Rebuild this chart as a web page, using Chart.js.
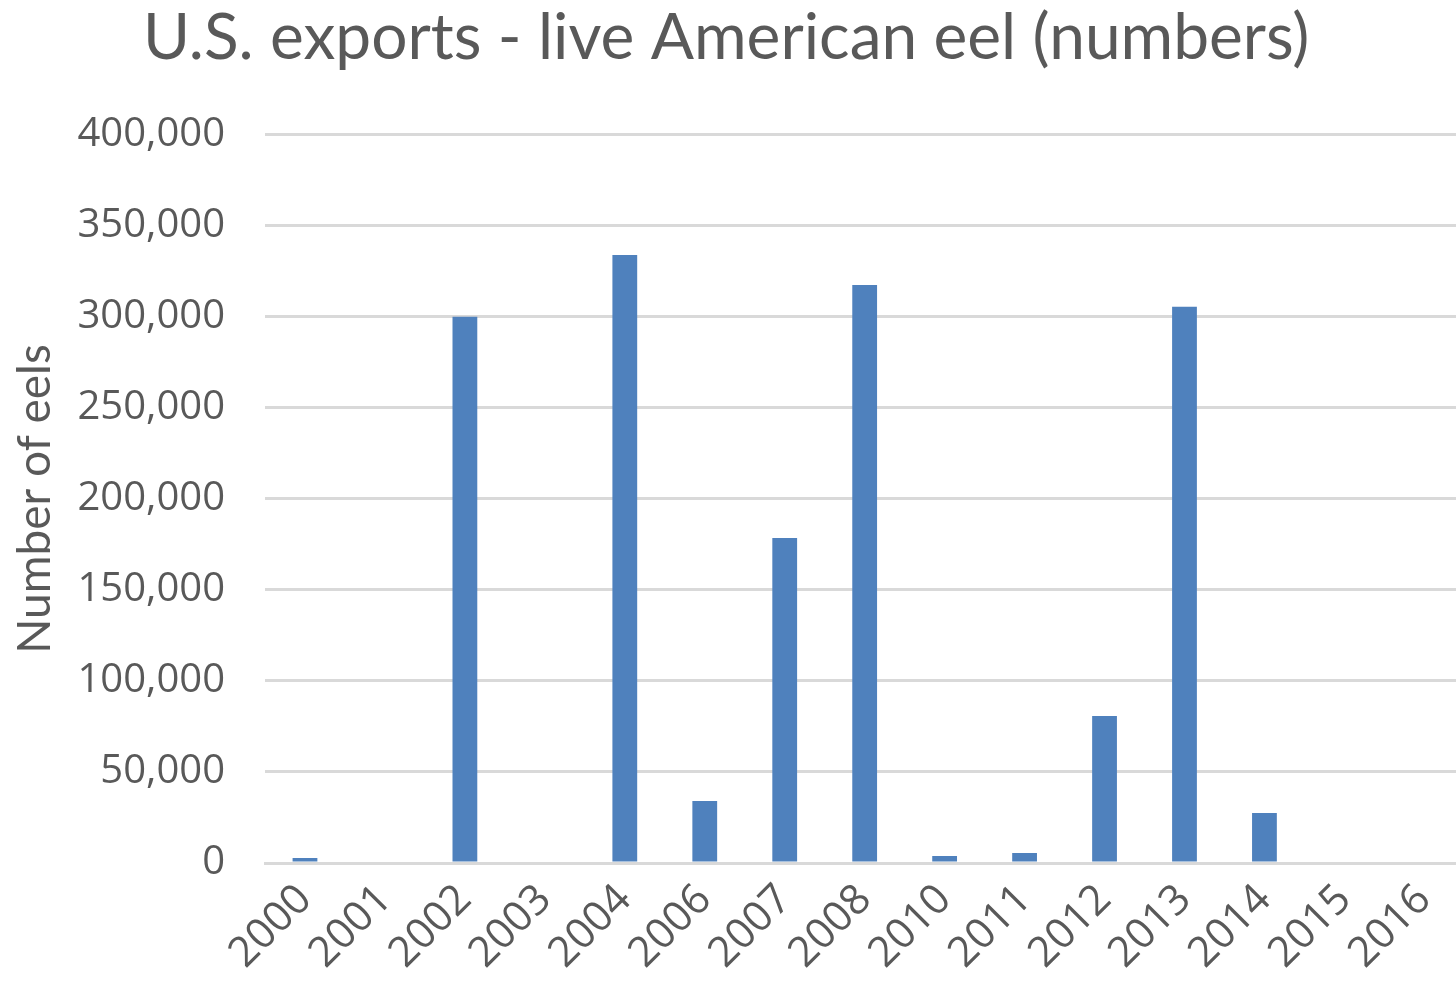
<!DOCTYPE html>
<html>
<head>
<meta charset="utf-8">
<script src="https://cdn.jsdelivr.net/npm/chart.js@4"></script>
<style>
  html, body { margin: 0; padding: 0; background: #fff; overflow: hidden; }
  #wrap { width: 1472px; height: 986px; }
</style>
</head>
<body>
<div id="wrap"><canvas id="eelChart"></canvas></div>
<script>
// data
const years = ['2000', '2001', '2002', '2003', '2004', '2006', '2007', '2008',
               '2010', '2011', '2012', '2013', '2014', '2015', '2016'];
const eelCounts = [2700, 0, 300000, 0, 334000, 34000, 178500, 317500,
                   3800, 5500, 80800, 305500, 27500, 0, 0];
const yTicks = [0, 50000, 100000, 150000, 200000, 250000, 300000, 350000, 400000];

const textGrey = '#595959';
const gridGrey = '#d9d9d9';
const barBlue = '#4f81bd';

const ctx = document.getElementById('eelChart');

const config = {
    type: 'bar',
    data: {
        labels: years,
        datasets: [{
            label: 'Number of eels',
            data: eelCounts,
            backgroundColor: barBlue,
            borderWidth: 0,
            barPercentage: 0.31,
            categoryPercentage: 1.0
        }]
    },
    options: {
        responsive: true,
        maintainAspectRatio: false,
        animation: false,
        layout: { padding: { left: 0, right: 0, top: 0, bottom: 0 } },
        plugins: {
            legend: { display: false },
            tooltip: { enabled: false },
            title: {
                display: true,
                text: 'U.S. exports - live American eel (numbers)',
                color: textGrey,
                font: { family: 'Lato', size: 64, weight: 'normal', lineHeight: 1.2 },
                padding: { top: 0, bottom: 58 },
                align: 'start',
                fullSize: true
            }
        },
        scales: {
            x: {
                grid: { display: false, drawTicks: false },
                border: { display: true, color: gridGrey, width: 3 },
                ticks: {
                    color: textGrey,
                    font: { family: 'Open Sans', size: 42 },
                    maxRotation: 45,
                    minRotation: 45,
                    padding: 12,
                    autoSkip: false
                },
                afterFit: function(scale) { scale.height = 123; }
            },
            y: {
                min: 0,
                max: 400000,
                afterBuildTicks: function(scale) {
                    scale.ticks = yTicks.map(v => ({ value: v }));
                },
                grid: { color: gridGrey, lineWidth: 3, drawTicks: false },
                border: { display: false },
                ticks: {
                    color: textGrey,
                    font: { family: 'Open Sans', size: 40 },
                    padding: 40,
                    callback: function(v) { return v.toLocaleString('en-US'); }
                },
                title: {
                    display: true,
                    text: 'Number of eels',
                    color: textGrey,
                    font: { family: 'Lato', size: 46 },
                    padding: { top: 8, bottom: 0 }
                },
                afterFit: function(scale) { scale.width = 265; }
            }
        }
    },
    plugins: [{
        // nudge the title so it starts where the reference's does
        id: 'titleShift',
        beforeDraw: function(chart) {
            const t = chart.titleBlock;
            if (t) { t.left = 143; }
        }
    }]
};

const chart = new Chart(ctx, config);
</script>
</body>
</html>
